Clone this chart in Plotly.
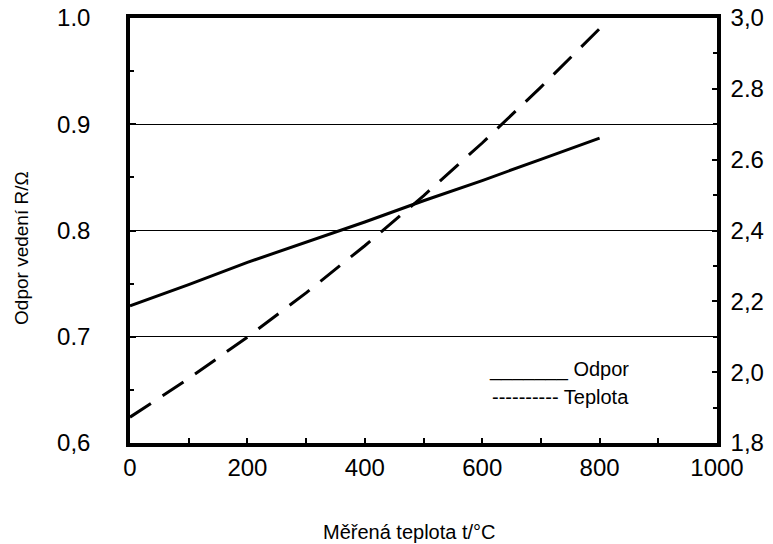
import plotly.graph_objects as go

# data
temps = [0, 100, 200, 300, 400, 500, 600, 700, 800]
odpor = [0.729, 0.749, 0.770, 0.789, 0.808, 0.828, 0.847, 0.867, 0.887]
teplota = [1.873, 1.982, 2.099, 2.224, 2.357, 2.498, 2.647, 2.805, 2.970]

x_ticks = [0, 100, 200, 300, 400, 500, 600, 700, 800, 900, 1000]
x_text = ["0", "", "200", "", "400", "", "600", "", "800", "", "1000"]
yl_ticks = [0.6, 0.7, 0.8, 0.9, 1.0]
yl_text = ["0,6", "0.7", "0.8", "0.9", "1.0"]
yr_ticks = [1.8, 2.0, 2.2, 2.4, 2.6, 2.8, 3.0]
yr_text = ["1,8", "2,0", "2,2", "2,4", "2.6", "2.8", "3,0"]

FONT = "Liberation Sans, Arial, sans-serif"

fig = go.Figure()
fig.add_trace(go.Scatter(x=temps, y=odpor, mode="lines", name="Odpor",
                         line=dict(color="black", width=3), yaxis="y"))
fig.add_trace(go.Scatter(x=temps, y=teplota, mode="lines", name="Teplota",
                         line=dict(color="black", width=3, dash="25px,14px"), yaxis="y2"))

fig.update_layout(
    width=773, height=544, autosize=False,
    margin=dict(l=130, r=56, t=18, b=101),
    paper_bgcolor="white", plot_bgcolor="white",
    showlegend=False,
    font=dict(family=FONT, color="black", size=24),
    xaxis=dict(range=[0, 1000], tickvals=x_ticks, ticktext=x_text,
               ticks="inside", ticklen=5, tickwidth=2, tickcolor="black",
               showline=True, linewidth=3.5, linecolor="black", mirror=True,
               showgrid=False, zeroline=False, ticklabelstandoff=0,
               automargin=False, tickfont=dict(size=24)),
    xaxis2=dict(range=[0, 1000], overlaying="x", anchor="y", side="bottom",
                tickvals=x_ticks, ticks="outside", ticklen=5, tickwidth=2,
                tickcolor="black", showticklabels=False, showline=False,
                showgrid=False, zeroline=False, automargin=False),
    yaxis=dict(range=[0.6, 1.0], tickvals=yl_ticks, ticktext=yl_text,
               ticks="inside", ticklen=6, tickwidth=2, tickcolor="black",
               showline=True, linewidth=3.5, linecolor="black",
               showgrid=True, gridcolor="black", gridwidth=1,
               zeroline=False, ticklabelstandoff=31, automargin=False,
               minor=dict(tickvals=[0.65, 0.75, 0.85, 0.95], ticks="inside",
                          ticklen=4, tickwidth=1.5, tickcolor="black", showgrid=False),
               tickfont=dict(size=24)),
    yaxis3=dict(range=[0.6, 1.0], overlaying="y", anchor="x", side="left",
                tickvals=yl_ticks, ticks="outside", ticklen=6, tickwidth=2,
                tickcolor="black", showticklabels=False, showline=False,
                showgrid=False, zeroline=False, automargin=False),
    yaxis2=dict(range=[1.8, 3.0], overlaying="y", anchor="x", side="right",
                tickvals=yr_ticks, ticktext=yr_text,
                ticks="inside", ticklen=5, tickwidth=2, tickcolor="black",
                showline=True, linewidth=3.5, linecolor="black",
                showgrid=False, zeroline=False, ticklabelstandoff=5,
                automargin=False,
                minor=dict(tickvals=[1.9, 2.1, 2.3, 2.5, 2.7, 2.9], ticks="inside",
                           ticklen=4, tickwidth=1.5, tickcolor="black", showgrid=False),
                tickfont=dict(size=24)),
    yaxis4=dict(range=[1.8, 3.0], overlaying="y", anchor="x", side="right",
                tickvals=yr_ticks, ticks="outside", ticklen=5, tickwidth=2,
                tickcolor="black", showticklabels=False, showline=False,
                showgrid=False, zeroline=False, automargin=False),
)

fig.add_annotation(text="Měřená teplota t/°C", xref="paper", yref="paper",
                   x=0.477, y=-0.209, xanchor="center", yanchor="middle",
                   showarrow=False, font=dict(size=20, family=FONT))
fig.add_annotation(text="Odpor vedení R/Ω", xref="paper", yref="paper",
                   x=-0.184, y=0.459, xanchor="center", yanchor="middle",
                   textangle=-90, showarrow=False, font=dict(size=19, family=FONT))
fig.add_annotation(text="_______ Odpor", xref="paper", yref="paper",
                   x=0.8535, y=0.172, xanchor="right", yanchor="middle",
                   showarrow=False, font=dict(size=20, family=FONT))
fig.add_annotation(text="---------- Teplota", xref="paper", yref="paper",
                   x=0.8535, y=0.108, xanchor="right", yanchor="middle",
                   showarrow=False, font=dict(size=20, family=FONT))

fig.write_html("out.html", config={"displayModeBar": False},
               post_script="document.body.style.margin='0';document.body.style.padding='0';")
